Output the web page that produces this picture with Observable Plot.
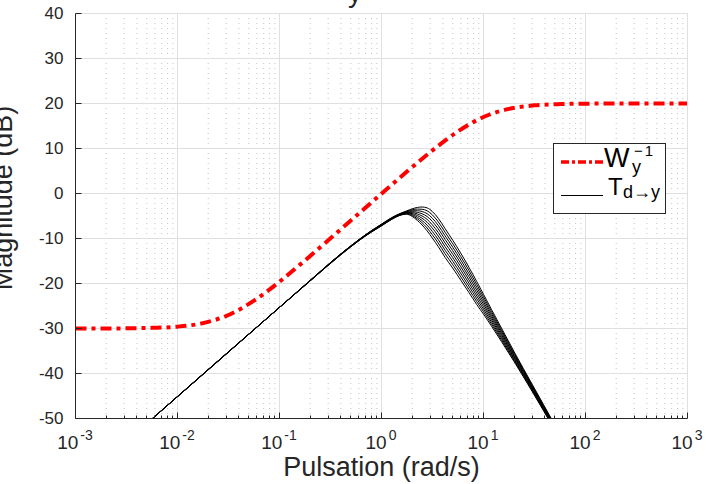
<!DOCTYPE html>
<html><head><meta charset="utf-8">
<script src="https://cdn.jsdelivr.net/npm/d3@7"></script>
<script src="https://cdn.jsdelivr.net/npm/@observablehq/plot@0.6"></script>
<style>body{margin:0;background:#fff} svg{display:block}</style>
</head><body><div id="chart"></div><script>
// ---- data ----
const omegaT = [0.005, 0.1, 0.2, 0.4, 0.62, 0.8, 1.0, 1.25, 1.5, 1.75, 2.0, 2.25, 2.5, 2.8, 3.15, 3.6, 4.2, 5.0, 6.0, 7.2, 8.6, 10, 12, 15, 20, 30, 50];
const tdy1 = [-51.1, -25.3, -19.4, -13.6, -10.25, -8.55, -7.2, -5.8, -4.9, -4.6, -5.1, -6.0, -7.0, -8.3, -9.9, -11.8, -14.2, -16.6, -19.3, -22.0, -24.7, -26.8, -29.5, -32.9, -37.4, -44.0, -52.6];
const tdy2 = [-51.1, -25.3, -19.4, -13.6, -10.22, -8.5, -7.15, -5.75, -4.85, -4.51, -4.89, -5.64, -6.5, -7.66, -9.16, -11.01, -13.4, -15.83, -18.55, -21.3, -24.06, -26.25, -29.04, -32.53, -37.13, -43.8, -52.45];
const tdy3 = [-51.1, -25.3, -19.4, -13.5, -10.19, -8.46, -7.1, -5.7, -4.8, -4.43, -4.68, -5.28, -6.0, -7.03, -8.43, -10.23, -12.6, -15.05, -17.8, -20.6, -23.43, -25.7, -28.58, -32.15, -36.85, -43.6, -52.3];
const tdy4 = [-51.1, -25.3, -19.4, -13.5, -10.16, -8.42, -7.05, -5.65, -4.75, -4.34, -4.46, -4.91, -5.5, -6.39, -7.69, -9.44, -11.8, -14.28, -17.05, -19.9, -22.79, -25.15, -28.11, -31.78, -36.58, -43.4, -52.15];
const tdy5 = [-51.1, -25.3, -19.35, -13.5, -10.13, -8.38, -7.0, -5.6, -4.7, -4.25, -4.25, -4.55, -5.0, -5.75, -6.95, -8.65, -11.0, -13.5, -16.3, -19.2, -22.15, -24.6, -27.65, -31.4, -36.3, -43.2, -52.0];
const tdy6 = [-51.1, -25.3, -19.35, -13.45, -10.1, -8.34, -6.95, -5.55, -4.65, -4.16, -4.04, -4.19, -4.5, -5.11, -6.21, -7.86, -10.2, -12.73, -15.55, -18.5, -21.51, -24.05, -27.19, -31.03, -36.03, -43.0, -51.85];
const tdy7 = [-51.1, -25.3, -19.3, -13.45, -10.07, -8.3, -6.9, -5.5, -4.6, -4.08, -3.83, -3.83, -4.0, -4.48, -5.48, -7.08, -9.4, -11.95, -14.8, -17.8, -20.88, -23.5, -26.73, -30.65, -35.75, -42.8, -51.7];
const tdy8 = [-51.1, -25.3, -19.3, -13.4, -10.04, -8.26, -6.85, -5.45, -4.55, -3.99, -3.61, -3.46, -3.5, -3.84, -4.74, -6.29, -8.6, -11.18, -14.05, -17.1, -20.24, -22.95, -26.26, -30.28, -35.48, -42.6, -51.55];
const tdy9 = [-51.1, -25.3, -19.3, -13.4, -10.0, -8.22, -6.8, -5.4, -4.5, -3.9, -3.4, -3.1, -3.0, -3.2, -4.0, -5.5, -7.8, -10.4, -13.3, -16.4, -19.6, -22.4, -25.8, -29.9, -35.2, -42.4, -51.4];
const tdCurves = [tdy1, tdy2, tdy3, tdy4, tdy5, tdy6, tdy7, tdy8, tdy9];

const omegaW = [0.001, 0.001778, 0.003162, 0.005623, 0.01, 0.01778, 0.03162, 0.05623, 0.1, 0.1778, 0.3162, 0.5623, 1, 1.778, 3.162, 5.623, 10, 17.78, 31.62, 56.23, 100, 177.8, 316.2, 562.3, 1000];
const wyInv = [-30.0, -30.0, -29.96, -29.86, -29.59, -28.81, -26.99, -23.81, -19.59, -14.87, -9.96, -5.0, -0.04, 4.87, 9.59, 13.81, 16.99, 18.81, 19.59, 19.87, 19.96, 19.99, 20.0, 20.0, 20.0];

const xTicks = [1e-3, 1e-2, 1e-1, 1, 10, 100, 1000];
const xTickExp = ["-3", "-2", "-1", "0", "1", "2", "3"];
const yTicks = [-50, -40, -30, -20, -10, 0, 10, 20, 30, 40];
const xLabel = "Pulsation (rad/s)";
const yLabel = "Magnitude (dB)";
const legendMain = ["W", "T"];
const legendSup = ["−1", ""];
const legendSub = ["y", "d→y"];

// ---- build ----
const minorX = [];
for (let e = -3; e < 3; e++) for (let k = 2; k <= 9; k++) minorX.push(k * Math.pow(10, e));
const rows = [];
tdCurves.forEach((arr, i) => arr.forEach((v, j) => rows.push({w: omegaT[j], db: v, curve: i})));
const wRows = omegaW.map((w, i) => ({w, db: wyInv[i]}));

const ink = "#262626";
const font = "'Liberation Sans', Arial, Helvetica, sans-serif";

const plot = Plot.plot({
  width: 706, height: 484,
  marginLeft: 75, marginRight: 19, marginTop: 13, marginBottom: 66,
  style: {fontFamily: font, background: "white"},
  x: {type: "log", domain: [1e-3, 1e3], axis: null},
  y: {domain: [-50, 40], axis: null},
  marks: [
    Plot.ruleX(minorX, {stroke: "#c2c2c2", strokeDasharray: "1,4", strokeWidth: 1}),
    Plot.ruleX(xTicks, {stroke: "#dfdfdf"}),
    Plot.ruleY(yTicks, {stroke: "#dfdfdf"}),
    Plot.line(rows, {x: "w", y: "db", z: "curve", stroke: "black", strokeWidth: 1, curve: "monotone-x", clip: true}),
    Plot.line(wRows, {x: "w", y: "db", stroke: "#ff0000", strokeWidth: 4, strokeDasharray: "11,5,4,5", strokeLinecap: "butt", curve: "monotone-x", clip: true})
  ]
});
document.getElementById("chart").appendChild(plot);

const xs = plot.scale("x"), ys = plot.scale("y");
const svg = d3.select(plot);
const x0 = Math.round(xs.apply(1e-3)) + 0.5, x1 = Math.round(xs.apply(1e3)) + 0.5;
const y0 = Math.round(ys.apply(-50)) + 0.5, y1 = Math.round(ys.apply(40)) + 0.5;
const ax = svg.append("g").attr("stroke", ink).attr("fill", "none");
ax.append("line").attr("x1", x0).attr("x2", x0).attr("y1", y0).attr("y2", y1);
ax.append("line").attr("x1", x0).attr("x2", x1).attr("y1", y0).attr("y2", y0);
yTicks.forEach(v => { const y = Math.round(ys.apply(v)) + 0.5; ax.append("line").attr("x1", x0).attr("x2", x0 + 6).attr("y1", y).attr("y2", y); });
xTicks.forEach(v => { const x = Math.round(xs.apply(v)) + 0.5; ax.append("line").attr("x1", x).attr("x2", x).attr("y1", y0).attr("y2", y0 - 6); });
minorX.forEach(v => { const x = Math.round(xs.apply(v)) + 0.5; ax.append("line").attr("x1", x).attr("x2", x).attr("y1", y0).attr("y2", y0 - 3); });

const tx = svg.append("g").attr("fill", ink).attr("font-family", font);
yTicks.forEach(v => {
  tx.append("text").attr("x", x0 - 12).attr("y", ys.apply(v) + 6).attr("text-anchor", "end").attr("font-size", 17).text(String(v));
});
xTicks.forEach((v, i) => {
  const t = tx.append("text").attr("x", xs.apply(v)).attr("y", 449).attr("text-anchor", "middle").attr("font-size", 19);
  t.append("tspan").text("10");
  t.append("tspan").attr("dy", -9).attr("dx", 2).attr("font-size", 14).text(xTickExp[i]);
});
tx.append("text").attr("x", (x0 + x1) / 2).attr("y", 476).attr("text-anchor", "middle").attr("font-size", 27).text(xLabel);
tx.append("text").attr("transform", "translate(12,198) rotate(-90)").attr("text-anchor", "middle").attr("font-size", 27).text(yLabel);
tx.append("text").attr("x", 355).attr("y", 2).attr("text-anchor", "middle").attr("font-size", 28).text("y");

// legend
const lg = svg.append("g").attr("font-family", font).attr("fill", "black").attr("text-anchor", "start");
lg.append("rect").attr("x", 553.5).attr("y", 143.5).attr("width", 112).attr("height", 70).attr("fill", "white").attr("stroke", ink).attr("stroke-width", 1);
lg.append("line").attr("x1", 561).attr("x2", 603).attr("y1", 162).attr("y2", 162).attr("stroke", "#ff0000").attr("stroke-width", 3.3).attr("stroke-dasharray", "8,3,3,3");
lg.append("line").attr("x1", 561).attr("x2", 603).attr("y1", 195.5).attr("y2", 195.5).attr("stroke", "black").attr("stroke-width", 1);
lg.append("text").attr("x", 604).attr("y", 167).attr("font-size", 27).text(legendMain[0]);
lg.append("text").attr("x", 634).attr("y", 156).attr("font-size", 15).attr("letter-spacing", 2).text(legendSup[0]);
lg.append("text").attr("x", 632).attr("y", 173).attr("font-size", 18).text(legendSub[0]);
lg.append("text").attr("x", 608).attr("y", 195).attr("font-size", 24).text(legendMain[1]);
lg.append("text").attr("x", 623).attr("y", 198).attr("font-size", 18).text(legendSub[1]);
</script></body></html>
